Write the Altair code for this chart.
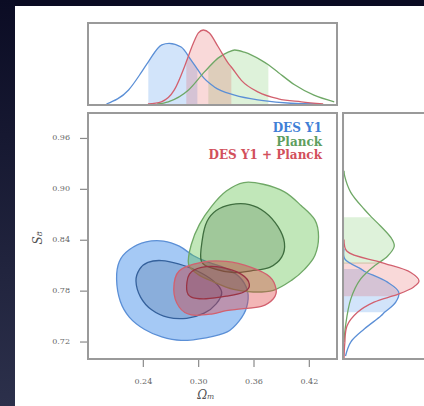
import altair as alt
import pandas as pd

W, H = 424, 406

# ---- axes -------------------------------------------------------------
OM_DOMAIN = [0.18, 0.45]
S8_DOMAIN = [0.70, 0.99]
om_ticks = [0.24, 0.30, 0.36, 0.42]
s8_ticks = [0.72, 0.78, 0.84, 0.90, 0.96]

# ---- 2D credible contours (Omega_m, S8): 95% and 68% ------------------
des95_om = [0.211, 0.214, 0.225, 0.243, 0.262, 0.279, 0.294, 0.308, 0.327, 0.344,
            0.353, 0.352, 0.344, 0.331, 0.308, 0.281, 0.260, 0.241, 0.225, 0.215]
des95_s8 = [0.794, 0.815, 0.829, 0.838, 0.839, 0.833, 0.822, 0.815, 0.808, 0.797,
            0.780, 0.761, 0.745, 0.732, 0.725, 0.722, 0.726, 0.735, 0.749, 0.768]
des68_om = [0.232, 0.236, 0.245, 0.260, 0.278, 0.298, 0.316, 0.325, 0.319, 0.306,
            0.287, 0.267, 0.249, 0.237]
des68_s8 = [0.792, 0.806, 0.814, 0.816, 0.812, 0.804, 0.792, 0.779, 0.765, 0.754,
            0.748, 0.749, 0.758, 0.773]

planck95_om = [0.289, 0.292, 0.301, 0.314, 0.330, 0.349, 0.370, 0.393, 0.411, 0.426,
               0.430, 0.426, 0.415, 0.401, 0.381, 0.359, 0.338, 0.316, 0.299]
planck95_s8 = [0.812, 0.835, 0.859, 0.880, 0.898, 0.908, 0.906, 0.897, 0.881, 0.864,
               0.844, 0.822, 0.806, 0.793, 0.781, 0.779, 0.782, 0.791, 0.800]
planck68_om = [0.303, 0.304, 0.309, 0.319, 0.335, 0.355, 0.372, 0.386, 0.393, 0.390,
               0.377, 0.357, 0.338, 0.318]
planck68_s8 = [0.815, 0.841, 0.862, 0.875, 0.882, 0.882, 0.873, 0.856, 0.837, 0.820,
               0.808, 0.804, 0.802, 0.806]

comb95_om = [0.273, 0.279, 0.303, 0.330, 0.357, 0.377, 0.384, 0.381, 0.368, 0.346,
             0.330, 0.314, 0.292, 0.279]
comb95_s8 = [0.782, 0.804, 0.814, 0.815, 0.808, 0.797, 0.782, 0.771, 0.762, 0.759,
             0.757, 0.753, 0.752, 0.761]
comb68_om = [0.287, 0.290, 0.303, 0.325, 0.346, 0.355, 0.349, 0.330, 0.308, 0.292]
comb68_s8 = [0.782, 0.800, 0.808, 0.808, 0.800, 0.788, 0.779, 0.774, 0.771, 0.773]

# ---- 1D marginals: Omega_m (peak-normalised) --------------------------
des_om_x = [0.200, 0.224, 0.238, 0.2454, 0.260, 0.268, 0.281, 0.292, 0.2986, 0.303,
            0.317, 0.339, 0.368, 0.400, 0.430]
des_om_p = [0.00, 0.19, 0.43, 0.57, 0.80, 0.82, 0.77, 0.59, 0.47, 0.39,
            0.23, 0.12, 0.05, 0.01, 0.00]
comb_om_x = [0.245, 0.2595, 0.2736, 0.2845, 0.2866, 0.2942, 0.2997, 0.305, 0.3116, 0.3213,
             0.3322, 0.3354, 0.3463, 0.3647, 0.3864, 0.4114, 0.435]
comb_om_p = [0.00, 0.03, 0.19, 0.50, 0.57, 0.82, 0.96, 1.00, 0.96, 0.77,
             0.55, 0.50, 0.32, 0.16, 0.07, 0.03, 0.00]
planck_om_x = [0.255, 0.267, 0.289, 0.306, 0.3105, 0.321, 0.332, 0.339, 0.3495, 0.368,
               0.3756, 0.386, 0.404, 0.425, 0.447]
planck_om_p = [0.00, 0.03, 0.19, 0.43, 0.49, 0.62, 0.70, 0.73, 0.70, 0.59,
               0.53, 0.43, 0.26, 0.12, 0.03]
des_om_band = [0.2454, 0.2986]
comb_om_band = [0.2866, 0.3354]
planck_om_band = [0.3105, 0.3756]

# ---- 1D marginals: S8 (peak-normalised) -------------------------------
des_s8_x = [0.7035, 0.720, 0.7353, 0.7506, 0.755, 0.767, 0.7788, 0.7906, 0.8035, 0.806,
            0.818, 0.830]
des_s8_p = [0.02, 0.09, 0.27, 0.49, 0.54, 0.69, 0.73, 0.58, 0.27, 0.23,
            0.01, 0.00]
comb_s8_x = [0.700, 0.718, 0.739, 0.755, 0.767, 0.774, 0.776, 0.785, 0.792, 0.802,
             0.814, 0.827, 0.841]
comb_s8_p = [0.00, 0.01, 0.04, 0.18, 0.40, 0.64, 0.71, 0.93, 1.00, 0.89,
             0.49, 0.04, 0.00]
planck_s8_x = [0.720, 0.7388, 0.7706, 0.7941, 0.8094, 0.812, 0.8212, 0.8329, 0.8412, 0.8565,
               0.867, 0.8765, 0.8965, 0.9153, 0.922]
planck_s8_p = [0.00, 0.02, 0.09, 0.22, 0.40, 0.44, 0.58, 0.67, 0.64, 0.49,
               0.37, 0.27, 0.09, 0.01, 0.00]
des_s8_band = [0.755, 0.806]
comb_s8_band = [0.774, 0.814]
planck_s8_band = [0.812, 0.867]

legend_labels = ["DES Y1", "Planck", "DES Y1 + Planck"]

# ---- styling ----------------------------------------------------------
BLUE = {"fill": "#1f78e6", "inner": "#2c4f80", "line": "#5b8fd6", "line_in": "#35619c", "txt": "#3f7fd6"}
GREEN = {"fill": "#5cc046", "inner": "#2f5a2f", "line": "#6fa866", "line_in": "#3f6e3f", "txt": "#5e9e5e"}
RED = {"fill": "#e04040", "inner": "#7a2030", "line": "#d2606e", "line_in": "#9a3344", "txt": "#d2505c"}
FRAME = "#9a9a9a"
TICK = "#8a8a8a"
LABEL = "#666666"
SERIF = "DejaVu Serif"

# pixel placement of the three panels
x_om = alt.Scale(domain=OM_DOMAIN, range=[88, 337], nice=False, zero=False)
y_s8 = alt.Scale(domain=S8_DOMAIN, range=[359, 113], nice=False, zero=False)
y_top = alt.Scale(domain=[0, 1], range=[104, 30], nice=False, zero=False)
x_right = alt.Scale(domain=[0, 1], range=[344, 419], nice=False, zero=False)

XO = alt.X("om:Q", scale=x_om, axis=None)
YS = alt.Y("s8:Q", scale=y_s8, axis=None)
XP = alt.X("p:Q", scale=x_right, axis=None)


def contour(om, s8, fill, opacity, stroke):
    df = pd.DataFrame({"om": om, "s8": s8, "i": range(len(om))})
    return alt.Chart(df).mark_line(
        interpolate="cardinal-closed", fill=fill, fillOpacity=opacity,
        stroke=stroke, strokeWidth=1.3
    ).encode(x=XO, y=YS, order=alt.Order("i:Q"))


one = pd.DataFrame({"k": [0]})
main_frame = alt.Chart(pd.DataFrame({"om": [OM_DOMAIN[0]], "om1": [OM_DOMAIN[1]],
                                     "s8": [S8_DOMAIN[0]], "s81": [S8_DOMAIN[1]]})).mark_rect(
    fillOpacity=0, stroke=FRAME, strokeWidth=2
).encode(x=XO, x2="om1:Q", y=YS, y2="s81:Q")

# tick marks and labels placed through the panel scales
om_tick_df = pd.DataFrame({"om": om_ticks, "lab": [f"{v:.2f}" for v in om_ticks]})
s8_tick_df = pd.DataFrame({"s8": s8_ticks, "lab": [f"{v:.2f}" for v in s8_ticks]})
x_tick_marks = alt.Chart(om_tick_df).mark_rule(color=TICK, strokeWidth=1.2).encode(
    x=XO, y=alt.value(360), y2=alt.value(367))
x_tick_labels = alt.Chart(om_tick_df).mark_text(
    font=SERIF, fontSize=8, color=LABEL, baseline="middle").encode(
    x=XO, y=alt.value(382), text="lab:N")
y_tick_marks = alt.Chart(s8_tick_df).mark_rule(color=TICK, strokeWidth=1.2).encode(
    y=YS, x=alt.value(80), x2=alt.value(87))
y_tick_labels = alt.Chart(s8_tick_df).mark_text(
    font=SERIF, fontSize=8, color=LABEL, align="right", baseline="middle").encode(
    y=YS, x=alt.value(70), text="lab:N")

main = alt.layer(
    contour(des95_om, des95_s8, BLUE["fill"], 0.4, BLUE["line"]),
    contour(des68_om, des68_s8, BLUE["inner"], 0.22, BLUE["line_in"]),
    contour(planck95_om, planck95_s8, GREEN["fill"], 0.38, GREEN["line"]),
    contour(planck68_om, planck68_s8, GREEN["inner"], 0.22, GREEN["line_in"]),
    contour(comb95_om, comb95_s8, RED["fill"], 0.38, RED["line"]),
    contour(comb68_om, comb68_s8, RED["inner"], 0.22, RED["line_in"]),
    main_frame, x_tick_marks, x_tick_labels, y_tick_marks, y_tick_labels,
)


def top_curve(xs, ps, band, pal):
    df = pd.DataFrame({"om": xs, "p": ps})
    yp = alt.Y("p:Q", scale=y_top, axis=None)
    area = alt.Chart(df).transform_filter(
        alt.FieldRangePredicate(field="om", range=band)
    ).mark_area(interpolate="monotone", color=pal["fill"], opacity=0.2).encode(x=XO, y=yp)
    line = alt.Chart(df).mark_line(interpolate="monotone", color=pal["line"],
                                   strokeWidth=1.3).encode(x=XO, y=yp)
    return area, line


top_frame = alt.Chart(pd.DataFrame({"om": [OM_DOMAIN[0]], "om1": [OM_DOMAIN[1]],
                                    "p": [-0.0135], "p1": [1.095]})).mark_rect(
    fillOpacity=0, stroke=FRAME, strokeWidth=2
).encode(x=XO, x2="om1:Q", y=alt.Y("p:Q", scale=y_top, axis=None), y2="p1:Q")

ta_b, tl_b = top_curve(des_om_x, des_om_p, des_om_band, BLUE)
ta_g, tl_g = top_curve(planck_om_x, planck_om_p, planck_om_band, GREEN)
ta_r, tl_r = top_curve(comb_om_x, comb_om_p, comb_om_band, RED)
top = alt.layer(ta_b, ta_g, ta_r, tl_b, tl_g, tl_r, top_frame)


def right_curve(ys, ps, band, pal):
    df = pd.DataFrame({"s8": ys, "p": ps})
    # shaded 68% interval: the curve inside the band, closed along the baseline
    inside = df[(df.s8 >= band[0]) & (df.s8 <= band[1])].sort_values("s8")
    shade = pd.concat([inside, pd.DataFrame({"s8": [band[1], band[0]], "p": [0.0, 0.0]})],
                      ignore_index=True)
    shade["i"] = range(len(shade))
    area = alt.Chart(shade).mark_line(
        interpolate="linear-closed", fill=pal["fill"], fillOpacity=0.2, strokeOpacity=0
    ).encode(x=XP, y=YS, order=alt.Order("i:Q"))
    line = alt.Chart(df).mark_line(interpolate="catmull-rom", color=pal["line"],
                                   strokeWidth=1.3).encode(x=XP, y=YS, order=alt.Order("s8:Q"))
    return area, line


right_frame = alt.Chart(pd.DataFrame({"p": [-0.013], "p1": [1.25],
                                      "s8": [S8_DOMAIN[0]], "s81": [S8_DOMAIN[1]]})).mark_rect(
    fillOpacity=0, stroke=FRAME, strokeWidth=2
).encode(x=XP, x2="p1:Q", y=YS, y2="s81:Q")

ra_b, rl_b = right_curve(des_s8_x, des_s8_p, des_s8_band, BLUE)
ra_g, rl_g = right_curve(planck_s8_x, planck_s8_p, planck_s8_band, GREEN)
ra_r, rl_r = right_curve(comb_s8_x, comb_s8_p, comb_s8_band, RED)
right = alt.layer(ra_b, ra_g, ra_r, rl_b, rl_g, rl_r, right_frame)

# ---- slide backdrop ---------------------------------------------------
panel = alt.Chart(one).mark_rect(color="white").encode(
    x=alt.value(15), x2=alt.value(W), y=alt.value(6), y2=alt.value(H))
left_strip = alt.Chart(one).mark_rect(
    color=alt.Gradient(gradient="linear",
                       stops=[alt.GradientStop(color="#0b0c24", offset=0),
                              alt.GradientStop(color="#2c304b", offset=1)],
                       x1=0, x2=0, y1=0, y2=1)
).encode(x=alt.value(0), x2=alt.value(15), y=alt.value(0), y2=alt.value(H))
top_strip = alt.Chart(one).mark_rect(color="#0a0b22").encode(
    x=alt.value(0), x2=alt.value(W), y=alt.value(0), y2=alt.value(6))

# ---- text -------------------------------------------------------------
legend_df = pd.DataFrame({"label": legend_labels, "row": [0, 1, 2]})
legend = alt.Chart(legend_df).mark_text(
    align="right", baseline="alphabetic", font=SERIF, fontSize=12, fontWeight="bold"
).encode(
    x=alt.value(322),
    y=alt.Y("row:Q", scale=alt.Scale(domain=[0, 2], range=[132, 159], nice=False, zero=False), axis=None),
    text="label:N",
    color=alt.Color("label:N", scale=alt.Scale(domain=legend_labels,
                                               range=[BLUE["txt"], GREEN["txt"], RED["txt"]]),
                    legend=None),
)
ylab = alt.Chart(one).mark_text(text="S₈", font=SERIF, fontSize=12, fontStyle="italic",
                                angle=270, color="#555555").encode(x=alt.value(38), y=alt.value(238))
xlab = alt.Chart(one).mark_text(text="Ωₘ", font=SERIF, fontSize=12, fontStyle="italic",
                                color="#555555").encode(x=alt.value(206), y=alt.value(395))

chart = alt.layer(
    top_strip, left_strip, panel, main, top, right, legend, ylab, xlab
).resolve_scale(
    x="independent", y="independent", color="independent"
).properties(
    width=W, height=H, autosize=alt.AutoSizeParams(type="none"),
    padding=0, background="#12142e"
).configure_view(stroke=None)

chart.save("out.html", embed_options={"renderer": "svg", "actions": False})
